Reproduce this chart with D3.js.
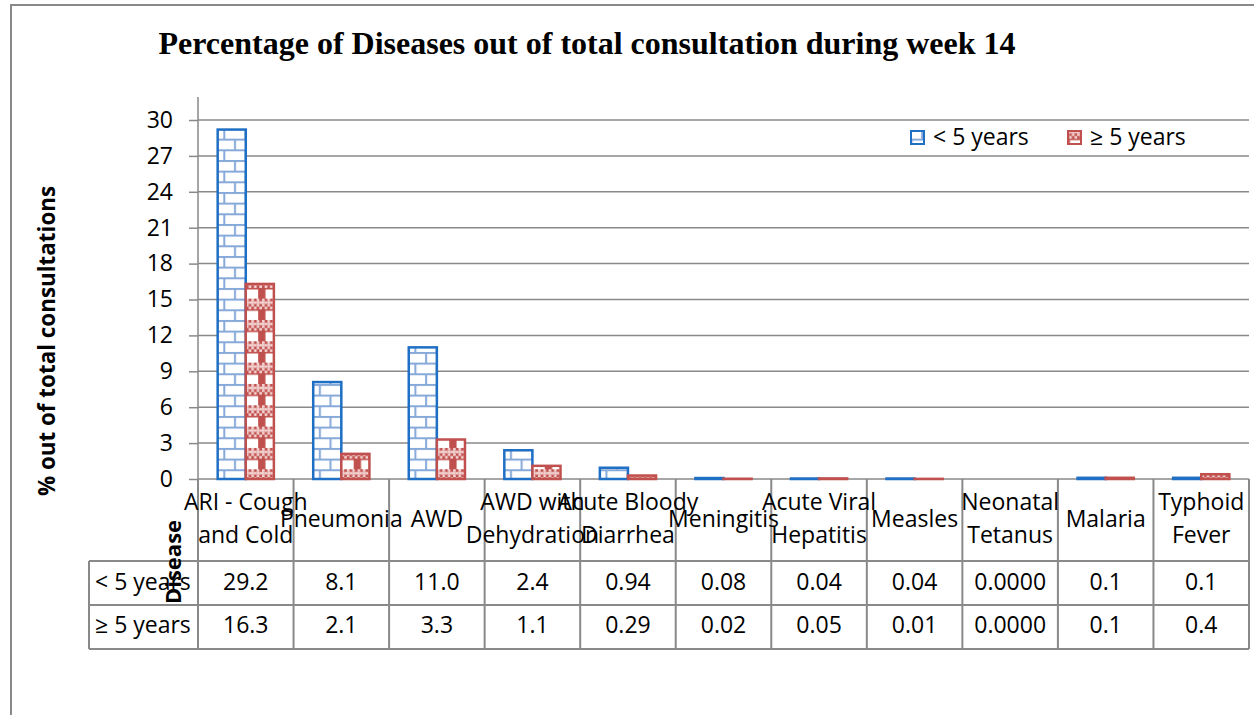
<!DOCTYPE html>
<html>
<head>
<meta charset="utf-8">
<script src="https://cdn.jsdelivr.net/npm/d3@7"></script>
<style>
  body { margin: 0; background: #fff; }
  text { font-family: 'Open Sans', sans-serif; fill: #000; }
</style>
</head>
<body>
<div id="chart"></div>
<script>
// data
const diseases = ['ARI - Cough\nand Cold', 'Pneumonia', 'AWD', 'AWD with\nDehydration', 'Acute Bloody\nDiarrhea',
    'Meningitis', 'Acute Viral\nHepatitis', 'Measles', 'Neonatal\nTetanus', 'Malaria', 'Typhoid\nFever']
const seriesNames = ['< 5 years', '≥ 5 years']
const under5 = [29.2, 8.1, 11.0, 2.4, 0.94, 0.08, 0.04, 0.04, 0.0, 0.1, 0.1]
const over5 = [16.3, 2.1, 3.3, 1.1, 0.29, 0.02, 0.05, 0.01, 0.0, 0.1, 0.4]
const decimals = [1, 1, 1, 1, 2, 2, 2, 2, 4, 1, 1]
const yTicks = [0, 3, 6, 9, 12, 15, 18, 21, 24, 27, 30]

const dim = {
    width: 1254,
    height: 715
}
const plot = { left: 198, right: 1249, top: 97, bottom: 479 }
const table = { left: 89, header: 561, row1: 605, row2: 649 }
const grey = '#898989'
const blue = '#1f6fc4'
const red = '#c0504d'

const svg = d3.select('#chart')
    .append('svg')
        .attr('width', dim.width)
        .attr('height', dim.height)

// patterns (brick for < 5, weave for >= 5)
const defs = svg.append('defs')
const t = 21.33, h = t / 2
const brick = defs.append('pattern')
    .attr('id', 'brick')
    .attr('patternUnits', 'userSpaceOnUse')
    .attr('width', t).attr('height', t)
brick.append('rect').attr('width', t).attr('height', t).attr('fill', '#fff')
const mortar = '#86a9da'
brick.append('rect').attr('y', 0).attr('width', t).attr('height', 2).attr('fill', mortar)
brick.append('rect').attr('y', h).attr('width', t).attr('height', 2).attr('fill', mortar)
brick.append('rect').attr('x', 4).attr('y', 0).attr('width', 2).attr('height', h).attr('fill', mortar)
brick.append('rect').attr('x', 4 + h).attr('y', h).attr('width', 2).attr('height', h).attr('fill', mortar)

const weave = defs.append('pattern')
    .attr('id', 'weave')
    .attr('patternUnits', 'userSpaceOnUse')
    .attr('width', t).attr('height', t)
weave.append('rect').attr('width', t).attr('height', t).attr('fill', red)
const cell = t / 8
for (let i = 0; i < 8; i++) {
    for (let j = 0; j < 4; j++) {
        if ((i + j) % 2 === 0 || j === 1) {
            weave.append('rect')
                .attr('x', i * cell).attr('y', j * cell)
                .attr('width', cell).attr('height', cell)
                .attr('fill', '#f3d3d2')
        }
    }
}
weave.append('rect').attr('x', 3.5).attr('y', h + 1.5).attr('width', 14).attr('height', h - 1.5).attr('fill', '#fff')

// chart border
svg.append('rect')
    .attr('x', 11).attr('y', 5)
    .attr('width', 1300).attr('height', 800)
    .attr('fill', 'none')
    .attr('stroke', grey)
    .attr('stroke-width', 2)

// title
svg.append('text')
    .attr('x', 587)
    .attr('y', 54)
    .attr('text-anchor', 'middle')
    .style('font-family', "'Liberation Serif', serif")
    .style('font-weight', 'bold')
    .style('font-size', '32px')
    .text('Percentage of Diseases out of total consultation during week 14')

// scales
const yScale = d3.scaleLinear()
    .domain([0, 30])
    .range([plot.bottom, 120])

const xScale = d3.scaleBand()
    .domain(diseases)
    .range([plot.left, plot.right])

const xSub = d3.scaleBand()
    .domain(seriesNames)
    .range([0, xScale.bandwidth()])
    .paddingOuter(0.7)

// gridlines
svg.append('g')
    .selectAll('line')
    .data(yTicks)
    .join('line')
        .attr('x1', plot.left)
        .attr('x2', plot.right)
        .attr('y1', d => yScale(d))
        .attr('y2', d => yScale(d))
        .attr('stroke', grey)
        .attr('stroke-width', 1.5)

// y axis
const yAxis = svg.append('g')
    .attr('transform', `translate(${plot.left},0)`)
    .call(d3.axisLeft(yScale).tickValues(yTicks).tickSize(9).tickPadding(16))
yAxis.select('.domain').remove()
yAxis.selectAll('line').attr('stroke', grey).attr('stroke-width', 1.5)
yAxis.selectAll('text')
    .style('font-family', "'Open Sans', sans-serif")
    .style('font-size', '23px')
    .attr('fill', '#000')

svg.append('line')
    .attr('x1', plot.left).attr('x2', plot.left)
    .attr('y1', plot.top).attr('y2', table.row2)
    .attr('stroke', grey)
    .attr('stroke-width', 1.5)

// bars
const rows = diseases.map((d, i) => ({ disease: d, values: [under5[i], over5[i]] }))
const fills = { '< 5 years': 'url(#brick)', '≥ 5 years': 'url(#weave)' }
const strokes = { '< 5 years': blue, '≥ 5 years': red }

svg.append('g')
    .attr('class', 'bars')
    .selectAll('g')
    .data(rows)
    .join('g')
        .attr('transform', d => `translate(${xScale(d.disease)},0)`)
    .selectAll('rect')
    .data(d => d.values.map((v, k) => ({ key: seriesNames[k], value: v })))
    .join('rect')
        .attr('x', d => xSub(d.key))
        .attr('y', d => yScale(d.value))
        .attr('width', xSub.bandwidth())
        .attr('height', d => yScale(0) - yScale(d.value))
        .attr('fill', d => fills[d.key])
        .attr('stroke', d => strokes[d.key])
        .attr('stroke-width', 2.5)

// data table
const tableG = svg.append('g').attr('class', 'table')
const bounds = diseases.map(d => xScale(d)).concat([plot.right])

tableG.selectAll('line.v')
    .data(bounds)
    .join('line')
        .attr('class', 'v')
        .attr('x1', d => d).attr('x2', d => d)
        .attr('y1', plot.bottom).attr('y2', table.row2)
        .attr('stroke', grey).attr('stroke-width', 2)

tableG.append('line')
    .attr('x1', table.left).attr('x2', table.left)
    .attr('y1', table.header).attr('y2', table.row2)
    .attr('stroke', grey).attr('stroke-width', 2)

tableG.selectAll('line.h')
    .data([table.header, table.row1, table.row2])
    .join('line')
        .attr('class', 'h')
        .attr('x1', table.left).attr('x2', plot.right)
        .attr('y1', d => d).attr('y2', d => d)
        .attr('stroke', grey).attr('stroke-width', 2)

// category labels
tableG.selectAll('text.cat')
    .data(diseases)
    .join('text')
        .attr('class', 'cat')
        .attr('text-anchor', 'middle')
        .style('font-size', '23px')
        .each(function(d) {
            const lines = d.split('\n')
            const y0 = lines.length === 1 ? 527 : 510
            d3.select(this).selectAll('tspan')
                .data(lines)
                .join('tspan')
                    .attr('x', xScale(d) + xScale.bandwidth() / 2)
                    .attr('y', (l, k) => y0 + k * 33)
                    .text(l => l)
        })

// value rows
const valueRows = [
    { name: seriesNames[0], values: under5, y: 590 },
    { name: seriesNames[1], values: over5, y: 633 }
]
valueRows.forEach(r => {
    tableG.append('text')
        .attr('x', 95)
        .attr('y', r.y)
        .style('font-size', '23px')
        .text(r.name)
    tableG.selectAll(null)
        .data(r.values)
        .join('text')
            .attr('x', (v, i) => xScale(diseases[i]) + xScale.bandwidth() / 2)
            .attr('y', r.y)
            .attr('text-anchor', 'middle')
            .style('font-size', '23px')
            .text((v, i) => v.toFixed(decimals[i]))
})

// legend
const legend = svg.append('g').attr('class', 'legend')
const legendX = [911, 1068]
seriesNames.forEach((s, i) => {
    legend.append('rect')
        .attr('x', legendX[i]).attr('y', 131)
        .attr('width', 13).attr('height', 13)
        .attr('fill', fills[s])
        .attr('stroke', strokes[s])
        .attr('stroke-width', 2)
    legend.append('text')
        .attr('x', legendX[i] + 22)
        .attr('y', 145)
        .style('font-size', '23px')
        .text(s)
})

// axis titles
svg.append('text')
    .attr('transform', 'translate(55,341) rotate(-90)')
    .attr('text-anchor', 'middle')
    .style('font-weight', 'bold')
    .style('font-size', '22.4px')
    .text('% out of total consultations')

svg.append('text')
    .attr('transform', 'translate(181,562) rotate(-90)')
    .attr('text-anchor', 'middle')
    .style('font-weight', 'bold')
    .style('font-size', '22px')
    .text('Disease')
</script>
</body>
</html>
